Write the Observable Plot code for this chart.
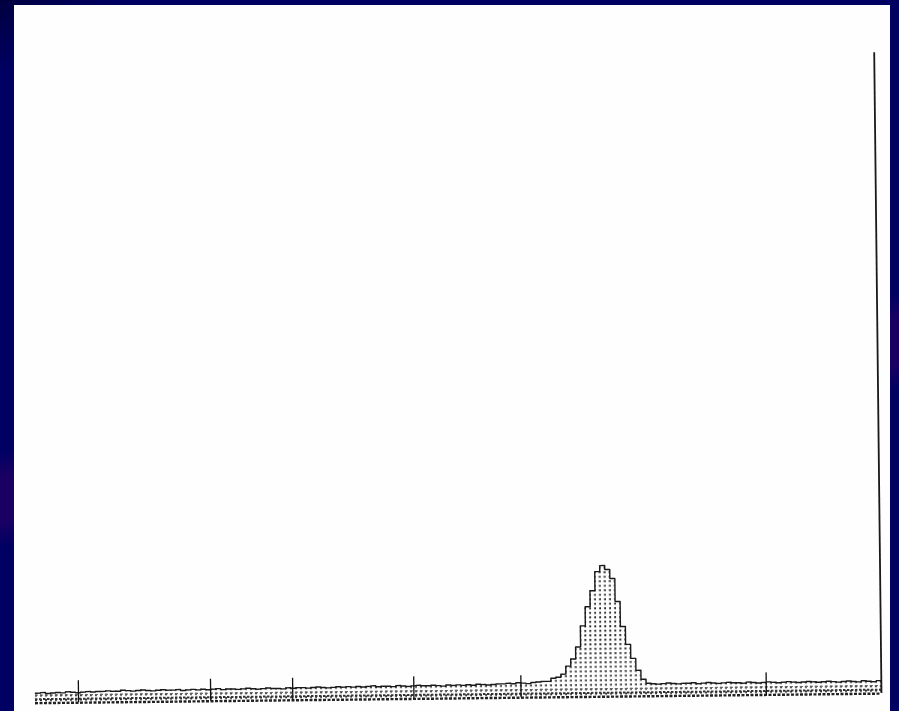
<!DOCTYPE html>
<html>
<head>
<meta charset="utf-8">
<script src="https://cdn.jsdelivr.net/npm/d3@7"></script>
<script src="https://cdn.jsdelivr.net/npm/@observablehq/plot@0.6"></script>
<style>
  html, body { margin: 0; padding: 0; width: 899px; height: 711px; overflow: hidden; }
  body {
    background-color: #000062;
    background-image:
      linear-gradient(170deg, rgba(0,0,0,0) 52%, rgba(48,0,100,0.55) 55%, rgba(48,0,100,0.55) 60%, rgba(0,0,0,0) 63%),
      linear-gradient(150deg, rgba(0,0,40,0.6) 0%, rgba(0,0,40,0) 6%);
  }
  #panel { position: absolute; left: 14px; top: 5px; width: 876px; height: 706px; background: #fefefe; overflow: hidden; }
  #panel svg { position: absolute; left: 0; top: 0; background: transparent; transform: rotate(-0.65deg); transform-origin: 436px 693px; }
</style>
</head>
<body>
<div id="panel"></div>
<script>
// Pulse-height spectrum: counts per channel (channels 0..168)
const counts = [
  20,21,19,20,21,20,22,21,20,21,22,21,22,
  22,23,22,22,24,23,22,23,24,23, 22,23,24,23,23,24,22,23,24,23,
  24,23,24,25,23,24,24,23,24,25, 24,23,24,25,24,24,23,25,24,25,
  25,24,25,26,25,24,25,26,25,26, 25,26,25,26,27,25,26,26,25,27,
  26,25,26,27,26,26,27,26,25,27, 26,27,26,27,26,28,27,26,27,28,
  28,29,28,30,29,28,30,31,32,
  32,38,40,46,62,76,100,142,180,212,250,262,254,236,190,140,104,76,52,34,26,
  25,24,25,26,25,24,25,25,26,24, 25,26,25,24,25,26,25,25,24,26,
  25,24,25,26,25,24,25,26,25,24, 25,26,25,24,25,26,25,24,25,26,
  25,24,26,25,24,26
];

// Calibration marker channels along the baseline
const markerChannels = [8.6, 35, 51.4, 75.6, 97, 146];

// Pulser line at the top of the range
const pulserChannel = 169;
const pulserCount = 1280;

const bins = counts.map((n, c) => ({c, n}));
const outline = bins.concat([{c: counts.length, n: counts[counts.length - 1]}]);

const chart = Plot.plot({
  width: 876,
  height: 706,
  marginLeft: 21,
  marginRight: 9,
  marginTop: 52,
  marginBottom: 13,
  x: {domain: [0, 169], axis: null},
  y: {domain: [0, 1280], axis: null},
  marks: [
    Plot.rectY(bins, {x1: "c", x2: d => d.c + 1, y: "n", fill: "url(#stipple)", inset: 0}),
    Plot.ruleY([0], {stroke: "#222", strokeWidth: 2.4, strokeDasharray: "3,1.5"}),
    Plot.ruleY([8], {stroke: "#333", strokeWidth: 2, strokeDasharray: "2.5,1.5"}),
    Plot.ruleY([16], {stroke: "#666", strokeWidth: 1.2, strokeDasharray: "3,2"}),
    Plot.lineY(outline, {x: "c", y: "n", curve: "step-after", stroke: "#1a1a1a", strokeWidth: 1.4}),
    Plot.ruleX(markerChannels, {y1: 0, y2: 44, stroke: "#111", strokeWidth: 1.3}),
    Plot.ruleX([pulserChannel], {y1: 0, y2: pulserCount, stroke: "#1a1a1a", strokeWidth: 1.8})
  ]
});

// dotted fill used under the spectrum
const defs = d3.select(chart).insert("defs", ":first-child");
const pat = defs.append("pattern")
  .attr("id", "stipple")
  .attr("patternUnits", "userSpaceOnUse")
  .attr("width", 5)
  .attr("height", 4.5);
pat.append("rect").attr("width", 5).attr("height", 4.5).attr("fill", "#fefefe");
pat.append("rect").attr("x", 1).attr("y", 1).attr("width", 2).attr("height", 2).attr("fill", "#2a2a2a");

document.getElementById("panel").appendChild(chart);
</script>
</body>
</html>
